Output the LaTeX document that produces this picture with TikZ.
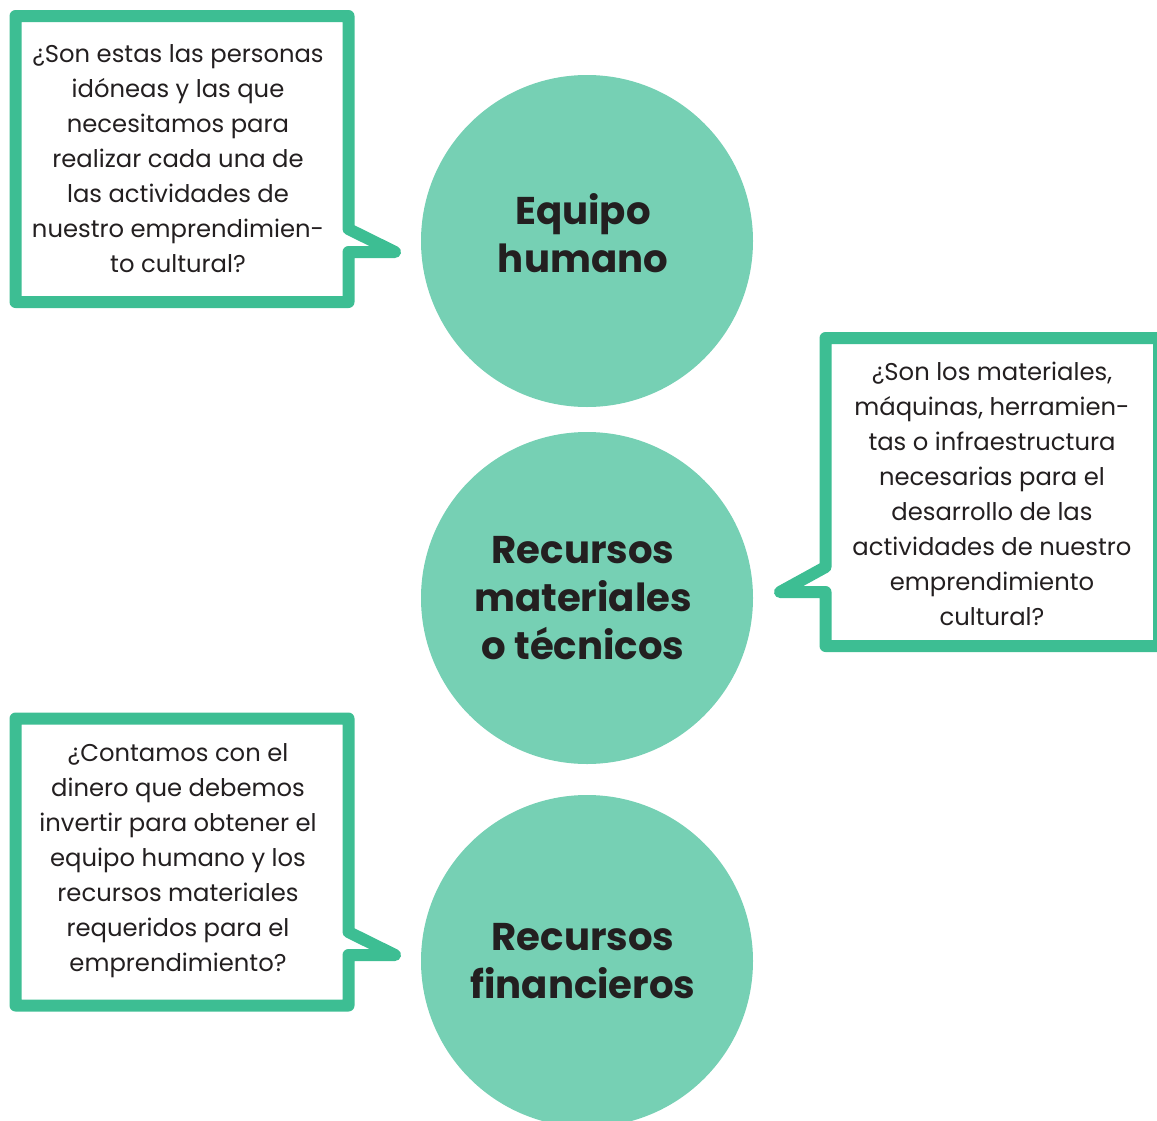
\documentclass[tikz,border=0pt]{standalone}
\usepackage{fontspec}
\setmainfont{Poppins}
\usepackage{tikz}
\usetikzlibrary{positioning}
\definecolor{verdeborde}{RGB}{61,190,147}
\definecolor{verdecirculo}{RGB}{118,208,180}
\definecolor{tinta}{RGB}{35,31,32}
\tikzset{
  bubble/.style={circle,fill=verdecirculo,minimum size=249pt,inner sep=0pt},
  titletext/.style={align=center,text=tinta,inner sep=0pt,xshift=-3pt,
    font=\bfseries\fontsize{29}{36}\selectfont},
  notetext/.style={align=center,text=tinta,inner sep=0pt,
    font=\fontsize{18.2}{26.25}\selectfont},
  callout/.style={draw=verdeborde,fill=white,line width=9pt,line join=round}
}

\begin{document}
\begin{tikzpicture}[x=0.75pt,y=-0.75pt]
  \useasboundingbox (0,0) rectangle (1157,1121);

  % circles
  \node [bubble] (equipo) at (587,241) {};
  \node [bubble] (materiales) at (587,598) {};
  \node [bubble] (financieros) at (587,961) {};
  \node [titletext] (tequipo) at ([yshift=6pt]equipo.center) {Equipo\\humano};
  \node [titletext] (tmateriales) at (materiales.center) {Recursos\\materiales\\o técnicos};
  \node [titletext] (tfinancieros) at (financieros.center) {Recursos\\financieros};

  % callouts
  \coordinate (tip1) at (395,252);
  \coordinate (tip2) at (780,592);
  \coordinate (tip3) at (395,955);
  \draw [callout] (15.5,16) -- (348.5,16) -- (348.5,229) -- (tip1)
    -- (348.5,252) -- (348.5,302) -- (15.5,302) -- cycle;
  \draw [callout] (825.5,338) -- (1159,338) -- (1159,646) -- (825.5,646)
    -- (825.5,592) -- (tip2) -- (825.5,567) -- cycle;
  \draw [callout] (15.5,718.5) -- (348.5,718.5) -- (348.5,932) -- (tip3)
    -- (348.5,955) -- (348.5,1005.5) -- (15.5,1005.5) -- cycle;

  \node [notetext] (q1) at (178,159) {¿Son estas las personas\\idóneas y las que\\necesitamos para\\realizar cada una de\\las actividades de\\nuestro emprendimien-\\to cultural?};
  \node [notetext] (q2) at (992,494) {¿Son los materiales,\\máquinas, herramien-\\tas o infraestructura\\necesarias para el\\desarrollo de las\\actividades de nuestro\\emprendimiento\\cultural?};
  \node [notetext] (q3) at (178,861) {¿Contamos con el\\dinero que debemos\\invertir para obtener el\\equipo humano y los\\recursos materiales\\requeridos para el\\emprendimiento?};
\end{tikzpicture}
\end{document}
